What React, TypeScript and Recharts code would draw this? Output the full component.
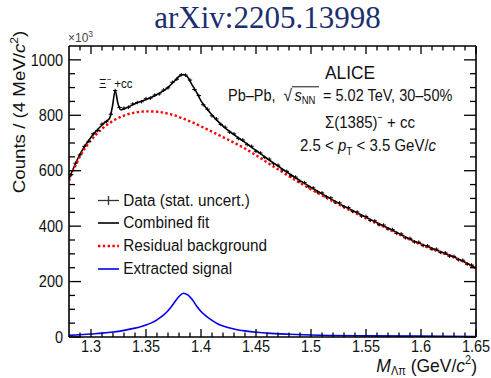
import React from 'react';
import { ComposedChart, Line, Scatter, XAxis, YAxis } from 'recharts';

// M(Λπ) invariant-mass spectrum, counts in units of 10^3
const dataMass = [
  1.282, 1.286, 1.29, 1.294, 1.298, 1.302, 1.306, 1.31, 1.314, 1.318,
  1.322, 1.326, 1.33, 1.334, 1.338, 1.342, 1.346, 1.35, 1.354, 1.358,
  1.362, 1.366, 1.37, 1.374, 1.378, 1.382, 1.386, 1.39, 1.394, 1.398,
  1.402, 1.406, 1.41, 1.414, 1.418, 1.422, 1.426, 1.43, 1.434, 1.438,
  1.442, 1.446, 1.45, 1.454, 1.458, 1.462, 1.466, 1.47, 1.474, 1.478,
  1.482, 1.486, 1.49, 1.494, 1.498, 1.502, 1.506, 1.51, 1.514, 1.518,
  1.522, 1.526, 1.53, 1.534, 1.538, 1.542, 1.546, 1.55, 1.554, 1.558,
  1.562, 1.566, 1.57, 1.574, 1.578, 1.582, 1.586, 1.59, 1.594, 1.598,
  1.602, 1.606, 1.61, 1.614, 1.618, 1.622, 1.626, 1.63, 1.634, 1.638,
  1.642, 1.646,
];
const dataCounts = [
  586, 627, 657, 688, 706, 733, 745, 768, 777, 804,
  889, 828, 826, 829, 841, 846, 849, 860, 862, 873,
  877, 891, 899, 919, 930, 946, 945, 927, 893, 871,
  838, 822, 798, 787, 767, 757, 739, 733, 716, 711,
  694, 688, 670, 664, 648, 642, 625, 620, 603, 598,
  582, 577, 561, 557, 542, 538, 523, 520, 505, 502,
  487, 484, 470, 467, 453, 451, 437, 435, 421, 419,
  405, 404, 390, 388, 374, 372, 358, 356, 343, 342,
  330, 329, 317, 317, 305, 304, 292, 291, 279, 277,
  263, 260,
];

const fitMass = [
  1.28, 1.29, 1.3, 1.31, 1.314, 1.317, 1.3195, 1.322, 1.3245, 1.327,
  1.33, 1.34, 1.345, 1.35, 1.355, 1.36, 1.365, 1.37, 1.375, 1.38,
  1.384, 1.388, 1.392, 1.396, 1.4, 1.405, 1.41, 1.415, 1.42, 1.43,
  1.44, 1.45, 1.46, 1.47, 1.48, 1.49, 1.5, 1.51, 1.52, 1.53,
  1.54, 1.55, 1.56, 1.57, 1.58, 1.59, 1.6, 1.61, 1.62, 1.63,
  1.64, 1.65,
];
const fitCounts = [
  571, 660, 721, 765, 779, 790, 832, 889, 842, 820,
  823, 842, 850, 857, 865, 875, 886, 901, 920, 940,
  947, 937, 909, 883, 852, 825, 801, 780, 761, 730,
  702, 673, 644, 617, 590, 564, 540, 517, 494, 472,
  452, 432, 412, 393, 373, 353, 336, 320, 304, 289,
  270, 250,
];

const bgMass = [
  1.28, 1.29, 1.3, 1.31, 1.32, 1.33, 1.34, 1.35, 1.36, 1.37,
  1.38, 1.39, 1.4, 1.41, 1.42, 1.43, 1.44, 1.45, 1.46, 1.47,
  1.48, 1.49, 1.5, 1.51, 1.52, 1.53, 1.54, 1.55, 1.56, 1.57,
  1.58, 1.59, 1.6, 1.61, 1.62, 1.63, 1.64, 1.65,
];
const bgCounts = [
  565, 652, 710, 751, 780, 799, 810, 814, 813, 806,
  794, 778, 760, 741, 721, 701, 680, 656, 630, 605,
  580, 556, 533, 511, 489, 468, 448, 428, 409, 390,
  370, 351, 333, 317, 302, 287, 268, 248,
];

const sigMass = [
  1.28, 1.29, 1.3, 1.31, 1.32, 1.33, 1.34, 1.345, 1.35, 1.355,
  1.36, 1.365, 1.37, 1.375, 1.38, 1.384, 1.388, 1.392, 1.396, 1.4,
  1.405, 1.41, 1.415, 1.42, 1.43, 1.44, 1.45, 1.46, 1.48, 1.5,
  1.55, 1.6, 1.65,
];
const sigCounts = [
  6, 8, 11, 14, 18, 24, 32, 37, 43, 51,
  62, 76, 95, 120, 146, 158, 152, 135, 112, 92,
  74, 60, 48, 40, 29, 22, 17, 14, 10, 7,
  4, 3, 2,
];

const xMajor = [1.3, 1.35, 1.4, 1.45, 1.5, 1.55, 1.6, 1.65];
const xLabels = ['1.3', '1.35', '1.4', '1.45', '1.5', '1.55', '1.6', '1.65'];
const yMajor = [0, 200, 400, 600, 800, 1000];
const yLabels = ['0', '200', '400', '600', '800', '1000'];

// minor divisions: 0.01 in mass, 50 in counts
const xTicks: number[] = [];
for (let i = 0; i <= 36; i++) xTicks.push(Number((1.29 + i * 0.01).toFixed(2)));
const yTicks: number[] = [];
for (let v = 0; v <= 1000; v += 50) yTicks.push(v);

const zip = (xs: number[], ys: number[]) => xs.map((x, i) => ({ x, y: ys[i] }));
const dataPts = zip(dataMass, dataCounts);
const fitPts = zip(fitMass, fitCounts);
const bgPts = zip(bgMass, bgCounts);
const sigPts = zip(sigMass, sigCounts);

const SY = 1.1;
const FONT = '"Liberation Sans", Arial, Helvetica, sans-serif';
const INK = '#111';

function T({ x, y, size, anchor = 'start', fill = INK, family = FONT, children }: any) {
  return (
    <text
      transform={`translate(${x},${y}) scale(1,${SY})`}
      fontSize={size}
      fontFamily={family}
      textAnchor={anchor}
      fill={fill}
    >
      {children}
    </text>
  );
}

const near = (arr: number[], v: number) => arr.findIndex((m) => Math.abs(m - v) < 1e-6);

function BottomTick({ x, y, payload }: any) {
  const i = near(xMajor, payload.value);
  return (
    <g>
      <line x1={x} x2={x} y1={y} y2={y - (i >= 0 ? 8 : 4.5)} stroke="#000" strokeWidth={1.3} />
      {i >= 0 && (
        <T x={x} y={y + 14.7} size={14.5} anchor="middle">
          {xLabels[i]}
        </T>
      )}
    </g>
  );
}

function TopTick({ x, y, payload }: any) {
  const major = near(xMajor, payload.value) >= 0;
  return <line x1={x} x2={x} y1={y} y2={y + (major ? 8 : 4.5)} stroke="#000" strokeWidth={1.3} />;
}

function LeftTick({ x, y, payload }: any) {
  const i = near(yMajor, payload.value);
  return (
    <g>
      <line x1={x} x2={x + (i >= 0 ? 12 : 6)} y1={y} y2={y} stroke="#000" strokeWidth={1.3} />
      {i >= 0 && (
        <T x={x - 6} y={y + 5.7} size={14.5} anchor="end">
          {yLabels[i]}
        </T>
      )}
    </g>
  );
}

function RightTick({ x, y, payload }: any) {
  const major = near(yMajor, payload.value) >= 0;
  return <line x1={x} x2={x - (major ? 12 : 6)} y1={y} y2={y} stroke="#000" strokeWidth={1.3} />;
}

const DataMarker = (p: any) => (
  <g stroke="#000" strokeWidth={1}>
    <line x1={p.cx - 2.2} x2={p.cx + 2.2} y1={p.cy} y2={p.cy} />
    <line x1={p.cx} x2={p.cx} y1={p.cy - 1.8} y2={p.cy + 1.8} />
  </g>
);

const frame = { stroke: '#000', strokeWidth: 1.6 };

export default function App() {
  return (
    <div style={{ position: 'absolute', left: 0, top: 0, width: 491, height: 378, background: '#fff' }}>
      <ComposedChart width={491} height={378} margin={{ top: 45, right: 14, bottom: 11, left: 9 }}>
        <XAxis
          xAxisId={0}
          dataKey="x"
          type="number"
          domain={[1.28, 1.65]}
          allowDataOverflow
          ticks={xTicks}
          interval={0}
          height={30}
          tickSize={0}
          tickMargin={0}
          tick={BottomTick}
          axisLine={frame}
        />
        <XAxis
          xAxisId="top"
          orientation="top"
          dataKey="x"
          type="number"
          domain={[1.28, 1.65]}
          allowDataOverflow
          ticks={xTicks}
          interval={0}
          height={1}
          tickSize={0}
          tickMargin={0}
          tick={TopTick}
          axisLine={frame}
        />
        <YAxis
          yAxisId={0}
          type="number"
          domain={[0, 1050]}
          allowDataOverflow
          ticks={yTicks}
          interval={0}
          width={60}
          tickSize={0}
          tickMargin={0}
          tick={LeftTick}
          axisLine={frame}
        />
        <YAxis
          yAxisId="right"
          orientation="right"
          type="number"
          domain={[0, 1050]}
          allowDataOverflow
          ticks={yTicks}
          interval={0}
          width={1}
          tickSize={0}
          tickMargin={0}
          tick={RightTick}
          axisLine={frame}
        />
        <Line
          xAxisId="top"
          yAxisId="right"
          data={bgPts}
          dataKey="y"
          stroke="none"
          dot={false}
          activeDot={false}
          isAnimationActive={false}
        />
        <Scatter data={dataPts} dataKey="y" shape={DataMarker} isAnimationActive={false} />
        <Line
          data={fitPts}
          dataKey="y"
          type="monotone"
          stroke="#000"
          strokeWidth={1.6}
          dot={false}
          activeDot={false}
          isAnimationActive={false}
        />
        <Line
          data={bgPts}
          dataKey="y"
          type="monotone"
          stroke="#ff0000"
          strokeWidth={2.4}
          strokeDasharray="2.4 2.4"
          dot={false}
          activeDot={false}
          isAnimationActive={false}
        />
        <Line
          data={sigPts}
          dataKey="y"
          type="monotone"
          stroke="#0000f0"
          strokeWidth={1.6}
          dot={false}
          activeDot={false}
          isAnimationActive={false}
        />
      </ComposedChart>

      <svg
        width={491}
        height={378}
        style={{ position: 'absolute', left: 0, top: 0, pointerEvents: 'none' }}
      >
        <text
          x={267.5}
          y={27.5}
          fontSize={31}
          fontFamily='"Liberation Serif", "Times New Roman", serif'
          textAnchor="middle"
          fill="#1b2f6e"
        >
          arXiv:2205.13998
        </text>

        <T x={68} y={42} size={12} fill="#444">
          ×10<tspan fontSize={8.5} dy={-5}>3</tspan>
        </T>

        {/* axis titles */}
        <text
          transform={`translate(24.5,112) scale(1,${SY}) rotate(-90)`}
          fontSize={17}
          fontFamily={FONT}
          textAnchor="middle"
          fill={INK}
        >
          Counts / (4 MeV/<tspan fontStyle="italic">c</tspan>
          <tspan fontSize={11} dy={-7}>2</tspan>
          <tspan dy={7}>)</tspan>
        </text>
        <T x={477} y={371.5} size={17.5} anchor="end">
          <tspan fontStyle="italic">M</tspan>
          <tspan fontSize={11} dy={3.5}>Λπ</tspan>
          <tspan dy={-3.5}> (GeV/</tspan>
          <tspan fontStyle="italic">c</tspan>
          <tspan fontSize={11} dy={-7}>2</tspan>
          <tspan dy={7}>)</tspan>
        </T>

        {/* Ξ peak label */}
        <T x={99} y={87.5} size={11.5}>
          Ξ<tspan fontSize={8} dy={-5}>−</tspan>
          <tspan dy={5}> +cc</tspan>
        </T>

        {/* annotations */}
        <T x={350} y={78.5} size={17.3} anchor="middle">
          ALICE
        </T>
        <T x={228} y={100.5} size={14.5}>
          Pb–Pb,
        </T>
        <T x={283.5} y={101} size={15.5}>
          √
        </T>
        <line x1={292} x2={319} y1={86.8} y2={86.8} stroke={INK} strokeWidth={1} />
        <T x={294.5} y={100.5} size={14.5}>
          <tspan fontStyle="italic">s</tspan>
          <tspan fontSize={9.5} dy={3.5}>NN</tspan>
        </T>
        <T x={323} y={100.5} size={14.5}>
          = 5.02 TeV, 30–50%
        </T>
        <T x={325} y={127.5} size={15}>
          Σ(1385)<tspan fontSize={9} dy={-6}>−</tspan>
          <tspan dy={6}> + cc</tspan>
        </T>
        <T x={300} y={150.7} size={15}>
          2.5 &lt; <tspan fontStyle="italic">p</tspan>
          <tspan fontSize={10} dy={4}>T</tspan>
          <tspan dy={-4}> &lt; 3.5 GeV/</tspan>
          <tspan fontStyle="italic">c</tspan>
        </T>

        {/* legend */}
        <g>
          <line x1={98} x2={119} y1={200.5} y2={200.5} stroke="#333" strokeWidth={1.3} />
          <line x1={108.5} x2={108.5} y1={196} y2={205} stroke="#333" strokeWidth={1.3} />
          <T x={123.3} y={205.7} size={15.3}>
            Data (stat. uncert.)
          </T>
          <line x1={98} x2={119} y1={223} y2={223} stroke="#000" strokeWidth={1.6} />
          <T x={123.3} y={228.3} size={15.3}>
            Combined fit
          </T>
          <line
            x1={98}
            x2={119}
            y1={246}
            y2={246}
            stroke="#ff0000"
            strokeWidth={2.4}
            strokeDasharray="2.4 2.4"
          />
          <T x={123.3} y={251.3} size={15.3}>
            Residual background
          </T>
          <line x1={98} x2={119} y1={269} y2={269} stroke="#0000f0" strokeWidth={1.6} />
          <T x={123.3} y={274.3} size={15.3}>
            Extracted signal
          </T>
        </g>
      </svg>
    </div>
  );
}
